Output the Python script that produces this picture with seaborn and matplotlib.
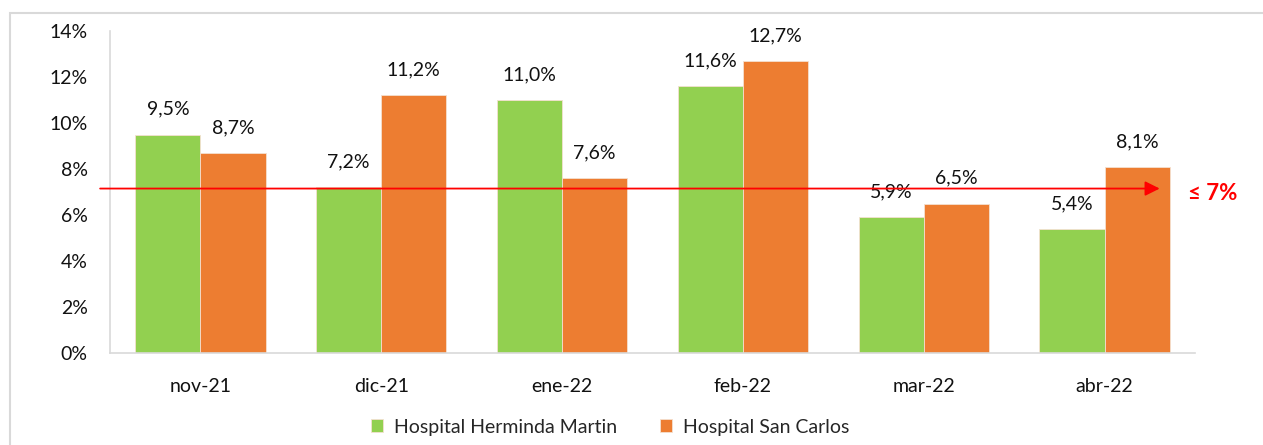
import pandas as pd
import matplotlib.pyplot as plt
import seaborn as sns
from matplotlib.patches import Rectangle
from matplotlib.ticker import FuncFormatter

# data
months = ["nov-21", "dic-21", "ene-22", "feb-22", "mar-22", "abr-22"]
herminda = [9.5, 7.2, 11.0, 11.6, 5.9, 5.4]
san_carlos = [8.7, 11.2, 7.6, 12.7, 6.5, 8.1]
series_names = ["Hospital Herminda Martin", "Hospital San Carlos"]
threshold = 7.15
threshold_label = "≤ 7%"

df = pd.DataFrame({
    "mes": months * 2,
    "valor": herminda + san_carlos,
    "hospital": [series_names[0]] * len(months) + [series_names[1]] * len(months),
})

sns.set_style("white")
plt.rcParams['font.family'] = ['Lato', 'DejaVu Sans']

fig = plt.figure(figsize=(12.63, 4.45), dpi=100)
ax = fig.add_axes([110 / 1263, 1 - 353 / 445, (1195 - 110) / 1263, (353 - 31) / 445])

sns.barplot(
    data=df, x="mes", y="valor", hue="hospital", order=months,
    palette=["#92D050", "#ED7D31"], width=0.72, saturation=1,
    edgecolor="#F4E0D0", linewidth=0.6, ax=ax, legend=True
)

for cont in ax.containers:
    ax.bar_label(cont, labels=[f"{v:.1f}%".replace(".", ",") for v in cont.datavalues],
                 padding=12, fontsize=14, color="#111111")

ax.set_ylim(0, 14)
ax.set_yticks(range(0, 15, 2))
ax.yaxis.set_major_formatter(FuncFormatter(lambda v, p: f"{v:.0f}%"))
ax.set_xlabel("")
ax.set_ylabel("")
ax.tick_params(axis="both", length=0, labelsize=14, colors="#111111")
ax.tick_params(axis="y", pad=16)
ax.tick_params(axis="x", pad=18)
ax.set_xlim(-0.5, 5.5)

for s in ["top", "right"]:
    ax.spines[s].set_visible(False)
for s in ["left", "bottom"]:
    ax.spines[s].set_color("#D9D9D9")
    ax.spines[s].set_linewidth(1.2)

# threshold arrow
ax.annotate("", xy=(5.32, threshold), xytext=(-0.57, threshold),
            arrowprops=dict(arrowstyle="-|>", color="red", lw=1.3, mutation_scale=22),
            annotation_clip=False)
ax.text(5.46, threshold - 0.2, threshold_label, color="red", fontsize=16,
        fontweight="bold", va="center", ha="left", clip_on=False)

handles, labels = ax.get_legend_handles_labels()
ax.get_legend().remove()
fig.legend(handles, labels, loc="center", bbox_to_anchor=(610 / 1263, 1 - 427 / 445),
           ncol=2, frameon=False, fontsize=14, handlelength=0.65, handleheight=0.65,
           columnspacing=2.2, handletextpad=0.55)

# outer border of the chart area
fig.patches.append(Rectangle((10 / 1263, -0.1), 1.2, (445 - 13) / 445 + 0.1,
                             transform=fig.transFigure, fill=False,
                             edgecolor="#D9D9D9", linewidth=1.5))

fig.savefig("out.png", dpi=100)
